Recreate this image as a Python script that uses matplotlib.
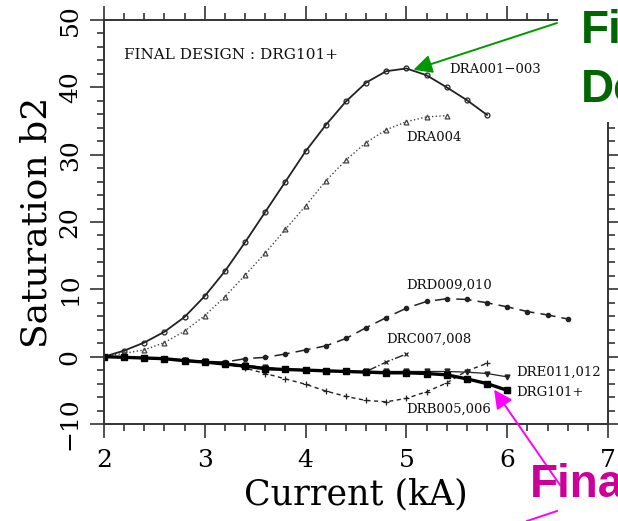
import matplotlib
matplotlib.use('Agg')
import matplotlib.pyplot as plt
from matplotlib.patches import Rectangle
from matplotlib.lines import Line2D
from matplotlib.ticker import MultipleLocator
import numpy as np

# ── Data (current in kA, saturation b2) ─────────────────────────────────
x_dra001 = [2.0, 2.2, 2.4, 2.6, 2.8, 3.0, 3.2, 3.4, 3.6, 3.8,
            4.0, 4.2, 4.4, 4.6, 4.8, 5.0, 5.2, 5.4, 5.6, 5.8]
y_dra001 = [0.0, 0.9, 2.1, 3.7, 5.9, 9.0, 12.7, 17.0, 21.5, 26.0,
            30.5, 34.4, 37.9, 40.7, 42.4, 42.8, 41.8, 40.0, 38.1, 35.9]

x_dra004 = [2.0, 2.2, 2.4, 2.6, 2.8, 3.0, 3.2, 3.4, 3.6,
            3.8, 4.0, 4.2, 4.4, 4.6, 4.8, 5.0, 5.2, 5.4]
y_dra004 = [0.0, 0.5, 1.0, 2.1, 3.8, 6.1, 8.9, 12.1, 15.4,
            18.9, 22.4, 26.1, 29.2, 31.8, 33.7, 34.9, 35.6, 35.8]

x_drd = [2.0, 2.2, 2.4, 2.6, 2.8, 3.0, 3.2, 3.4, 3.6, 3.8, 4.0, 4.2,
         4.4, 4.6, 4.8, 5.0, 5.2, 5.4, 5.6, 5.8, 6.0, 6.2, 6.4, 6.6]
y_drd = [0.0, -0.1, -0.2, -0.3, -0.5, -0.7, -0.8, -0.3, -0.1, 0.4, 1.0, 1.6,
         2.7, 4.3, 5.8, 7.2, 8.2, 8.6, 8.5, 8.0, 7.4, 6.7, 6.2, 5.6]

x_drc = [2.0, 2.2, 2.4, 2.6, 2.8, 3.0, 3.2, 3.4,
         3.6, 3.8, 4.0, 4.2, 4.4, 4.6, 4.8, 5.0]
y_drc = [0.0, -0.1, -0.2, -0.3, -0.5, -0.7, -1.0, -1.3,
         -1.6, -1.9, -2.1, -2.2, -2.3, -2.2, -0.8, 0.4]

x_drb = [2.0, 2.2, 2.4, 2.6, 2.8, 3.0, 3.2, 3.4, 3.6, 3.8,
         4.0, 4.2, 4.4, 4.6, 4.8, 5.0, 5.2, 5.4, 5.6, 5.8]
y_drb = [0.0, -0.1, -0.2, -0.3, -0.5, -0.8, -1.1, -1.7, -2.5, -3.3,
         -4.1, -5.1, -5.9, -6.5, -6.7, -6.2, -5.2, -3.9, -2.1, -1.0]

x_dre = [2.0, 2.2, 2.4, 2.6, 2.8, 3.0, 3.2, 3.4, 3.6, 3.8, 4.0,
         4.2, 4.4, 4.6, 4.8, 5.0, 5.2, 5.4, 5.6, 5.8, 6.0]
y_dre = [0.0, -0.1, -0.2, -0.3, -0.5, -0.7, -1.0, -1.3, -1.6, -1.9, -2.0,
         -2.1, -2.2, -2.2, -2.2, -2.2, -2.2, -2.2, -2.3, -2.5, -3.0]

x_drg = [2.0, 2.2, 2.4, 2.6, 2.8, 3.0, 3.2, 3.4, 3.6, 3.8, 4.0,
         4.2, 4.4, 4.6, 4.8, 5.0, 5.2, 5.4, 5.6, 5.8, 6.0]
y_drg = [0.0, -0.1, -0.2, -0.3, -0.6, -0.8, -1.1, -1.4, -1.8, -1.9, -2.0,
         -2.1, -2.2, -2.3, -2.4, -2.4, -2.5, -2.7, -3.3, -4.0, -5.0]

curve_labels = ['DRA001\u2212003', 'DRA004', 'DRD009,010', 'DRC007,008',
                'DRE011,012', 'DRG101+', 'DRB005,006']
# ────────────────────────────────────────────────────────────────────────

SERIF = 'DejaVu Serif'
INK   = '#222222'
W, H  = 618, 521

fig = plt.figure(figsize=(W / 100, H / 100), dpi=100)
ax  = fig.add_axes([104 / W, 1 - 424 / H, 504 / W, 404 / H])

ax.plot(x_dra001, y_dra001, '-', color=INK, lw=1.3, marker='o', ms=3.5,
        mfc='none', mew=0.9)
ax.plot(x_dra004, y_dra004, ':', color='#444444', lw=1.0, marker='^', ms=3.5,
        mfc='none', mew=0.9)
ax.plot(x_drd, y_drd, color=INK, lw=1.1, dashes=(10, 4), marker='o', ms=3)
ax.plot(x_drc, y_drc, '-.', color=INK, lw=1.0, marker='x', ms=3.5, mew=0.9)
ax.plot(x_drb, y_drb, color=INK, lw=1.0, dashes=(3, 2.5), marker='+', ms=4.5, mew=0.9)
ax.plot(x_dre, y_dre, '-', color=INK, lw=0.9, marker='v', ms=3.5)
ax.plot(x_drg, y_drg, '-', color='black', lw=2.4, marker='s', ms=4.5)

ax.set_xlim(2, 7)
ax.set_ylim(-10, 50)
ax.xaxis.set_major_locator(MultipleLocator(1))
ax.xaxis.set_minor_locator(MultipleLocator(0.2))
ax.yaxis.set_major_locator(MultipleLocator(10))
ax.yaxis.set_minor_locator(MultipleLocator(2))
ax.tick_params(which='both', direction='out', top=True, right=True,
               color='#333333', width=1.2)
ax.tick_params(which='major', length=10, pad=6, labelsize=18)
ax.tick_params(which='minor', length=5)
ax.tick_params(axis='x', which='major', pad=8)
for spine in ax.spines.values():
    spine.set_linewidth(1.4)
    spine.set_color('#333333')

for lab in ax.get_xticklabels() + ax.get_yticklabels():
    lab.set_family(SERIF)
for lab in ax.get_yticklabels():
    lab.set_rotation(90)
    lab.set_va('center')

ax.set_xlabel('Current (kA)', family=SERIF, fontsize=25, labelpad=4)
ax.set_ylabel('Saturation b2', family=SERIF, fontsize=26, labelpad=4)

# curve labels and title note
txt = dict(family=SERIF, fontsize=9.5, va='center', ha='left', color='#111111')
ax.text(2.2, 44.8, 'FINAL DESIGN : DRG101+', **dict(txt, fontsize=11))
label_pos = [(5.42, 42.7), (5.0, 32.6), (5.0, 10.65), (4.8, 2.58),
             (6.09, -2.38), (6.09, -5.35), (5.0, -7.81)]
for name, (lx, ly) in zip(curve_labels, label_pos):
    ax.text(lx, ly, name, **txt)

# slide overlay: white box over the top-right, then green callout
fig.add_artist(Rectangle((558 / W, 1 - 122 / H), 60 / W, 122 / H,
                         transform=fig.transFigure, facecolor='white',
                         edgecolor='none', zorder=5))
callout = dict(family='Liberation Sans', weight='bold', fontsize=33,
               va='baseline', ha='left', zorder=6)
fig.text(581 / W, 1 - 43 / H, 'Final', color='#006600', **callout)
fig.text(581 / W, 1 - 102 / H, 'Design', color='#006600', **callout)
ax.annotate('', xy=(5.07, 42.6), xytext=(557, H - 23), textcoords='figure pixels',
            arrowprops=dict(arrowstyle='-|>', color='#009900', lw=1.4,
                            mutation_scale=28, shrinkA=0, shrinkB=0),
            annotation_clip=False, zorder=7)

fig.text(530 / W, 1 - 497 / H, 'Final', color='#CC0099', **callout)
ax.annotate('', xy=(5.87, -4.9), xytext=(560, H - 485), textcoords='figure pixels',
            arrowprops=dict(arrowstyle='-|>', color='#FF00FF', lw=1.4,
                            mutation_scale=28, shrinkA=0, shrinkB=0),
            annotation_clip=False, zorder=7)
fig.add_artist(Line2D([527 / W, 557 / W], [0, 10 / H], transform=fig.transFigure,
                      color='#FF00FF', lw=1.4, zorder=7))

fig.savefig('out.png', dpi=100)
